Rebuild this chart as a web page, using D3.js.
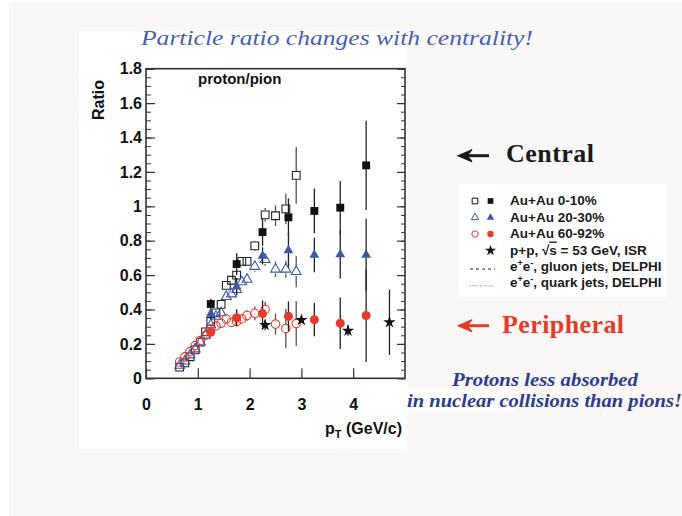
<!DOCTYPE html>
<html><head><meta charset="utf-8">
<script src="https://cdn.jsdelivr.net/npm/d3@7"></script>
<style>html,body{margin:0;padding:0;background:#fff;}svg{display:block;}</style>
</head><body>
<script>
// ---- data ----
const openPt = [0.65,0.75,0.85,0.95,1.05,1.15,1.25,1.35,1.45,1.55,1.65,1.75,1.85,1.95,2.1,2.3,2.5,2.7,2.9];
const open0010 = [0.065,0.09,0.125,0.165,0.21,0.27,0.33,0.38,0.43,0.54,0.57,0.60,0.68,0.68,0.77,0.95,0.945,0.985,1.18];
const open0010Err = [0.005,0.005,0.005,0.006,0.007,0.008,0.01,0.01,0.012,0.015,0.02,0.02,0.02,0.025,0.03,0.04,0.06,0.09,0.165];
const open2030 = [0.075,0.10,0.135,0.17,0.21,0.25,0.31,0.36,0.38,0.475,0.49,0.515,0.56,0.575,0.65,0.69,0.634,0.634,0.62];
const open2030Err = [0.005,0.005,0.005,0.006,0.007,0.008,0.01,0.01,0.012,0.015,0.015,0.02,0.02,0.02,0.03,0.035,0.045,0.05,0.09];
const open6092 = [0.095,0.125,0.155,0.19,0.22,0.25,0.285,0.305,0.32,0.345,0.325,0.33,0.345,0.365,0.378,0.40,0.315,0.29,0.318];
const open6092Err = [0.005,0.005,0.005,0.006,0.007,0.008,0.01,0.01,0.012,0.015,0.02,0.02,0.025,0.03,0.04,0.045,0.06,0.115,0.13];

const filledPt = [1.25,1.75,2.25,2.75,3.25,3.75,4.25];
const filled0010 = [0.432,0.664,0.85,0.936,0.973,0.992,1.238];
const filled0010Err = [0.03,0.063,0.08,0.11,0.13,0.155,0.26];
const filled2030 = [0.374,0.533,0.712,0.744,0.717,0.72,0.717];
const filled2030Err = [0.03,0.05,0.05,0.1,0.1,0.14,0.21];
const filled6092 = [0.268,0.352,0.376,0.36,0.341,0.32,0.365];
const filled6092Err = [0.02,0.05,0.077,0.087,0.097,0.15,0.27];

const ppPt = [2.3,3.0,3.9,4.7];
const ppRatio = [0.31,0.339,0.277,0.326];
const ppErr = [0.03,0.015,0.03,0.19];

const xTicks = [0,1,2,3,4];
const xTickLabels = ["0","1","2","3","4"];
const yTicks = [0,0.2,0.4,0.6,0.8,1.0,1.2,1.4,1.6,1.8];
const yTickLabels = ["0","0.2","0.4","0.6","0.8","1","1.2","1.4","1.6","1.8"];
const legendLabels = ["Au+Au 0-10%","Au+Au 20-30%","Au+Au 60-92%"];

// ---- drawing ----
const W = 682, H = 516;
const svg = d3.select("body").append("svg").attr("width", W).attr("height", H);
const sans = "'Liberation Sans', Arial, Helvetica, sans-serif";
const serif = "'Liberation Serif', 'Times New Roman', serif";

svg.append("rect").attr("width", W).attr("height", H).attr("fill", "#ffffff");
svg.append("rect").attr("x", 9).attr("y", 2).attr("width", W - 9).attr("height", H - 2).attr("fill", "#faf8f7");
svg.append("rect").attr("x", 79).attr("y", 31).attr("width", 328).attr("height", 418).attr("fill", "#ffffff");
svg.append("rect").attr("x", 407).attr("y", 389).attr("width", 108).attr("height", 22).attr("fill", "#ffffff");

const x = d3.scaleLinear().domain([0, 5]).range([146, 405]);
const y = d3.scaleLinear().domain([0, 1.8]).range([378.3, 68.7]);

const axisColor = "#333";
const yMinor = d3.range(0, 1.8001, 0.05);
const gl2 = svg.append("g").attr("transform", `translate(${x(0)},0)`)
  .call(d3.axisLeft(y).tickValues(yMinor).tickSize(-5).tickFormat(""));
const gr2 = svg.append("g").attr("transform", `translate(${x(5)},0)`)
  .call(d3.axisRight(y).tickValues(yMinor).tickSize(-4).tickFormat(""));
[gl2, gr2].forEach(g => { g.select(".domain").remove(); g.selectAll("line").attr("stroke", axisColor).attr("stroke-width", 1); });

const gl = svg.append("g").attr("transform", `translate(${x(0)},0)`)
  .call(d3.axisLeft(y).tickValues(yTicks).tickSizeInner(-9).tickSizeOuter(0).tickPadding(4)
    .tickFormat((d, i) => yTickLabels[i]));
const gr = svg.append("g").attr("transform", `translate(${x(5)},0)`)
  .call(d3.axisRight(y).tickValues(yTicks).tickSizeInner(-8).tickSizeOuter(0).tickFormat(""));
const gb = svg.append("g").attr("transform", `translate(0,${y(0)})`)
  .call(d3.axisBottom(x).tickValues(xTicks).tickSizeInner(-10).tickSizeOuter(0).tickPadding(20)
    .tickFormat((d, i) => xTickLabels[i]));
[gl, gr, gb].forEach(g => {
  g.select(".domain").remove();
  g.selectAll("line").attr("stroke", axisColor).attr("stroke-width", 1.2);
  g.selectAll("text").attr("font-family", sans).attr("font-size", 16).attr("font-weight", "bold").attr("fill", "#111");
});
svg.append("rect").attr("x", x(0)).attr("y", y(1.8)).attr("width", x(5) - x(0)).attr("height", y(0) - y(1.8))
  .attr("fill", "none").attr("stroke", axisColor).attr("stroke-width", 1.6);

svg.append("text").attr("transform", "translate(104,100) rotate(-90)").attr("text-anchor", "middle")
  .attr("font-family", sans).attr("font-size", 16).attr("font-weight", "bold").attr("fill", "#111").text("Ratio");
const xt = svg.append("text").attr("x", 402).attr("y", 434).attr("text-anchor", "end")
  .attr("font-family", sans).attr("font-size", 16).attr("font-weight", "bold").attr("fill", "#111");
xt.append("tspan").text("p");
xt.append("tspan").attr("dy", 4).attr("font-size", 11).text("T");
xt.append("tspan").attr("dy", -4).text(" (GeV/c)");
svg.append("text").attr("x", 198).attr("y", 84).attr("font-family", sans).attr("font-size", 15)
  .attr("font-weight", "bold").attr("fill", "#111").text("proton/pion");

const sym = (type, size) => d3.symbol().type(type).size(size)();
function errBars(pts, vals, errs, color, half) {
  const g = svg.append("g").attr("stroke", color).attr("stroke-width", 1.3);
  pts.forEach((p, i) => {
    const cx = x(p), cy = y(vals[i]);
    const top = y(vals[i] + errs[i]), bot = y(vals[i] - errs[i]);
    if (cy - top > half) g.append("line").attr("x1", cx).attr("x2", cx).attr("y1", top).attr("y2", cy - half);
    if (bot - cy > half) g.append("line").attr("x1", cx).attr("x2", cx).attr("y1", cy + half).attr("y2", bot);
  });
}
function markers(pts, vals, type, size, fill, stroke, sw) {
  svg.append("g").selectAll("path").data(pts).join("path")
    .attr("transform", (p, i) => `translate(${x(p)},${y(vals[i])})`)
    .attr("d", sym(type, size))
    .attr("fill", fill).attr("stroke", stroke).attr("stroke-width", sw);
}
const RED = "#e8392b", BLUE = "#3a58ad";

errBars(openPt, open0010, open0010Err, "#555", 4.3);
errBars(openPt, open2030, open2030Err, "#555", 4.3);
errBars(openPt, open6092, open6092Err, "#555", 4.3);
markers(openPt, open0010, d3.symbolSquare, 60, "none", "#222", 1.1);
markers(openPt, open2030, d3.symbolTriangle, 42, "none", BLUE, 1.1);
markers(openPt, open6092, d3.symbolCircle, 56, "none", RED, 1.1);
errBars(filledPt, filled0010, filled0010Err, "#222", 0);
errBars(filledPt, filled2030, filled2030Err, "#222", 0);
errBars(filledPt, filled6092, filled6092Err, "#222", 0);
errBars(ppPt, ppRatio, ppErr, "#222", 0);
markers(filledPt, filled0010, d3.symbolSquare, 62, "#111", "none", 0);
markers(filledPt, filled2030, d3.symbolTriangle, 42, BLUE, "none", 0);
markers(filledPt, filled6092, d3.symbolCircle, 64, RED, "none", 0);
markers(ppPt, ppRatio, d3.symbolStar, 48, "#111", "none", 0);

// legend
svg.append("rect").attr("x", 458).attr("y", 184).attr("width", 209).attr("height", 113).attr("fill", "#ffffff");
const rowY = [205, 221.5, 238, 254.5, 271, 287.3];
const lg = svg.append("g");
const lcol = ["#111", BLUE, RED];
const ltype = [d3.symbolSquare, d3.symbolTriangle, d3.symbolCircle];
const lsize = [32, 24, 32];
legendLabels.forEach((lab, i) => {
  lg.append("path").attr("transform", `translate(475,${rowY[i] - 4})`).attr("d", sym(ltype[i], lsize[i]))
    .attr("fill", "none").attr("stroke", lcol[i]).attr("stroke-width", 1);
  lg.append("path").attr("transform", `translate(490.5,${rowY[i] - 4})`).attr("d", sym(ltype[i], lsize[i]))
    .attr("fill", lcol[i]);
});
lg.append("path").attr("transform", `translate(490.5,${rowY[3] - 4})`).attr("d", sym(d3.symbolStar, 38)).attr("fill", "#111");
lg.append("line").attr("x1", 470).attr("x2", 495).attr("y1", rowY[4] - 2).attr("y2", rowY[4] - 2)
  .attr("stroke", "#222").attr("stroke-width", 1).attr("stroke-dasharray", "3,3");
lg.append("line").attr("x1", 470).attr("x2", 495).attr("y1", rowY[5] - 1.5).attr("y2", rowY[5] - 1.5)
  .attr("stroke", "#6b64c8").attr("stroke-width", 1).attr("stroke-dasharray", "1,1.5");
const ltxt = (i) => lg.append("text").attr("x", 510).attr("y", rowY[i]).attr("font-family", sans)
  .attr("font-size", 13.5).attr("font-weight", "bold").attr("fill", "#1a1a1a");
legendLabels.forEach((lab, i) => ltxt(i).text(lab));
const t4 = ltxt(3);
t4.append("tspan").text("p+p, √");
t4.append("tspan").style("text-decoration", "overline").text("s");
t4.append("tspan").text(" = 53 GeV, ISR");
[[4, ", gluon jets, DELPHI"], [5, ", quark jets, DELPHI"]].forEach(([i, s]) => {
  const t = ltxt(i);
  t.append("tspan").text("e");
  t.append("tspan").attr("dy", -5).attr("font-size", 9).text("+");
  t.append("tspan").attr("dy", 5).text("e");
  t.append("tspan").attr("dy", -5).attr("font-size", 9).text("-");
  t.append("tspan").attr("dy", 5).text(s);
});

// annotations
svg.append("text").attr("x", 141).attr("y", 45).attr("textLength", 392).attr("lengthAdjust", "spacingAndGlyphs")
  .attr("font-family", serif).attr("font-style", "italic").attr("font-size", 21).attr("fill", "#4a5fb3")
  .text("Particle ratio changes with centrality!");

function arrow(yc, color) {
  svg.append("line").attr("x1", 466).attr("x2", 489).attr("y1", yc).attr("y2", yc)
    .attr("stroke", color).attr("stroke-width", 3);
  svg.append("path").attr("d", `M458,${yc} L472,${yc - 6} L467,${yc} L472,${yc + 6} Z`).attr("fill", color)
    .attr("stroke", color).attr("stroke-width", 1.2);
}
arrow(155.7, "#1a1a1a");
arrow(325.7, RED);
svg.append("text").attr("x", 506).attr("y", 162.3).attr("textLength", 88).attr("font-family", serif)
  .attr("font-weight", "bold").attr("font-size", 26).attr("fill", "#1a1a1a").text("Central");
svg.append("text").attr("x", 502).attr("y", 333).attr("textLength", 122).attr("font-family", serif)
  .attr("font-weight", "bold").attr("font-size", 26).attr("fill", RED).text("Peripheral");

svg.append("text").attr("x", 452).attr("y", 386).attr("textLength", 186).attr("lengthAdjust", "spacingAndGlyphs")
  .attr("font-family", serif).attr("font-weight", "bold").attr("font-style", "italic").attr("font-size", 19)
  .attr("fill", "#2d3b90").text("Protons less absorbed");
svg.append("text").attr("x", 407).attr("y", 407).attr("textLength", 275).attr("lengthAdjust", "spacingAndGlyphs")
  .attr("font-family", serif).attr("font-weight", "bold").attr("font-style", "italic").attr("font-size", 19)
  .attr("fill", "#2d3b90").text("in nuclear collisions than pions!");
</script>
</body></html>
